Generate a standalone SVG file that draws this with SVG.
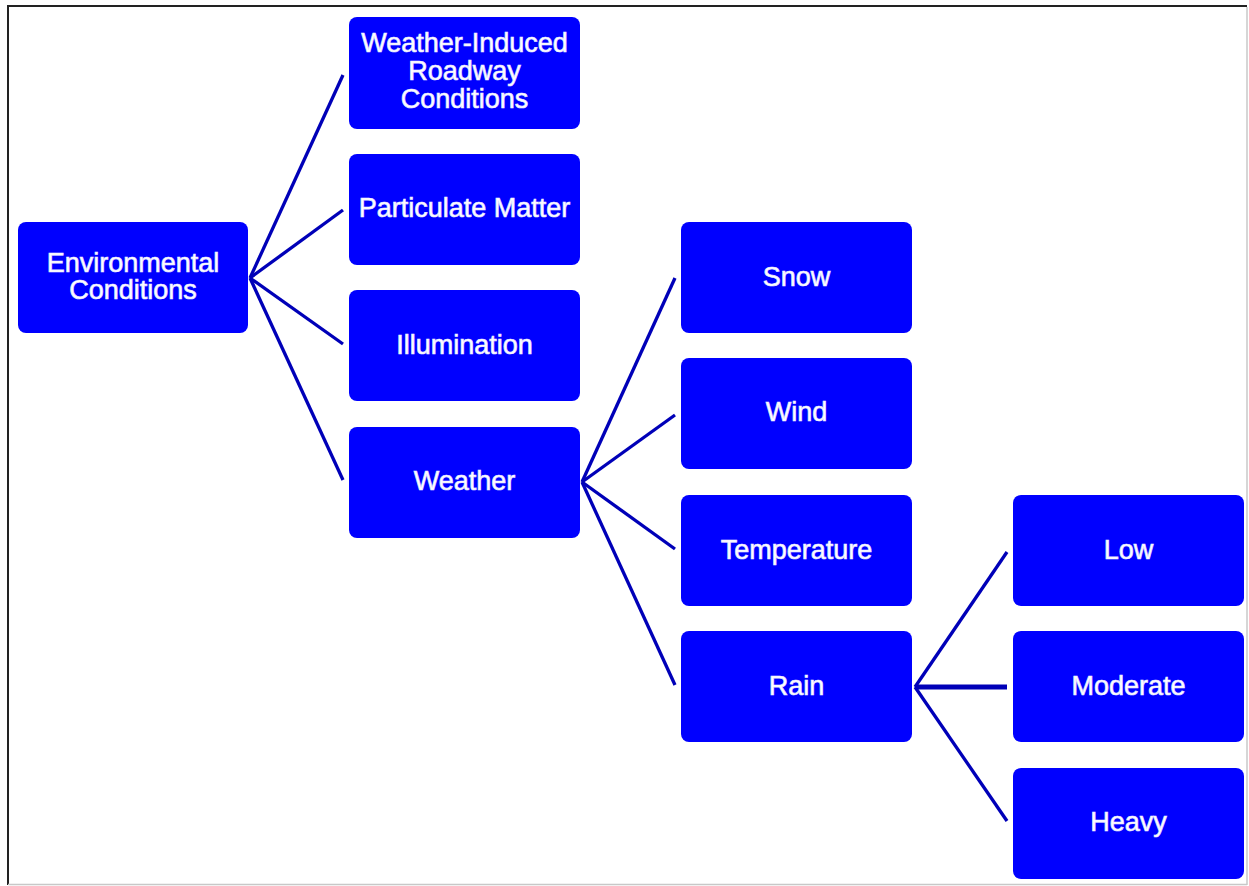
<svg xmlns="http://www.w3.org/2000/svg" width="1249" height="886" viewBox="0 0 1249 886">
<style>
.n{fill:#0000ff}
.t{fill:#ffffff;font-family:"Liberation Sans",Arial,sans-serif;font-size:27px;text-anchor:middle;dominant-baseline:central;stroke:#e8e8ff;stroke-width:0.7}
.c{stroke:#0000b8;stroke-width:3.3;fill:none;stroke-linecap:butt}
</style>
<rect x="0" y="0" width="1249" height="886" fill="#ffffff"/>
<line x1="8" y1="6" x2="1247" y2="6" stroke="#222" stroke-width="2"/>
<line x1="8" y1="5" x2="8" y2="885" stroke="#222" stroke-width="2"/>
<line x1="1247" y1="7" x2="1247" y2="885" stroke="#c8c8c8" stroke-width="1.5"/>
<line x1="8" y1="884.5" x2="1247" y2="884.5" stroke="#c8c8c8" stroke-width="1.5"/>
<g id="connectors">
<line class="c" x1="250" y1="278" x2="343" y2="75"/>
<line class="c" x1="250" y1="278" x2="343" y2="210"/>
<line class="c" x1="250" y1="278" x2="343" y2="344"/>
<line class="c" x1="250" y1="278" x2="343" y2="480"/>
<line class="c" x1="582" y1="482" x2="675" y2="278"/>
<line class="c" x1="582" y1="482" x2="675" y2="415"/>
<line class="c" x1="582" y1="482" x2="675" y2="549"/>
<line class="c" x1="582" y1="482" x2="675" y2="685"/>
<line class="c" x1="915" y1="687" x2="1007" y2="552"/>
<line class="c" x1="915" y1="687" x2="1007" y2="687" style="stroke-width:5"/>
<line class="c" x1="915" y1="687" x2="1007" y2="821"/>
</g>
<g id="env"><rect class="n" x="18" y="222" width="230" height="111" rx="8"/><text class="t" x="133" y="263">Environmental</text><text class="t" x="133" y="290">Conditions</text></g>
<g id="wird"><rect class="n" x="349" y="17" width="231" height="112" rx="8"/><text class="t" x="464.5" y="43">Weather-Induced</text><text class="t" x="464.5" y="71">Roadway</text><text class="t" x="464.5" y="99">Conditions</text></g>
<g id="pm"><rect class="n" x="349" y="154" width="231" height="111" rx="8"/><text class="t" x="464.5" y="208">Particulate Matter</text></g>
<g id="illum"><rect class="n" x="349" y="290" width="231" height="111" rx="8"/><text class="t" x="464.5" y="345">Illumination</text></g>
<g id="weather"><rect class="n" x="349" y="427" width="231" height="111" rx="8"/><text class="t" x="464.5" y="481">Weather</text></g>
<g id="snow"><rect class="n" x="681" y="222" width="231" height="111" rx="8"/><text class="t" x="796.5" y="277">Snow</text></g>
<g id="wind"><rect class="n" x="681" y="358" width="231" height="111" rx="8"/><text class="t" x="796.5" y="412">Wind</text></g>
<g id="temp"><rect class="n" x="681" y="495" width="231" height="111" rx="8"/><text class="t" x="796.5" y="550">Temperature</text></g>
<g id="rain"><rect class="n" x="681" y="631" width="231" height="111" rx="8"/><text class="t" x="796.5" y="686">Rain</text></g>
<g id="low"><rect class="n" x="1013" y="495" width="231" height="111" rx="8"/><text class="t" x="1128.5" y="550">Low</text></g>
<g id="moderate"><rect class="n" x="1013" y="631" width="231" height="111" rx="8"/><text class="t" x="1128.5" y="686">Moderate</text></g>
<g id="heavy"><rect class="n" x="1013" y="768" width="231" height="111" rx="8"/><text class="t" x="1128.5" y="822">Heavy</text></g>
</svg>
